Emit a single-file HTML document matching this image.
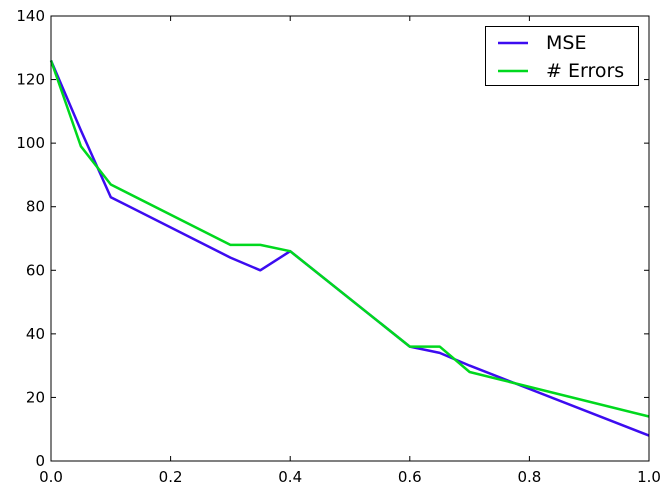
<!DOCTYPE html>
<html><head><meta charset="utf-8"><style>
body{margin:0;background:#fff;}
svg text{font-family:"DejaVu Sans","Liberation Sans",sans-serif;font-size:15px;fill:#000;}
</style></head><body>
<svg id="chart" width="671" height="493">
<rect x="0" y="0" width="671" height="493" fill="#fff"/>
<g id="marks"></g>
<g id="axes"></g>
</svg>
<script>
const xs = [0, 0.05, 0.1, 0.3, 0.35, 0.4, 0.6, 0.65, 0.7, 1.0];
const mseValues = [126, 104, 83, 64, 60, 66, 36, 34, 30, 8];
const errorValues = [126, 99, 87, 68, 68, 66, 36, 36, 28, 14];
const xTicks = [0, 0.2, 0.4, 0.6, 0.8, 1.0];
const xTickLabels = ["0.0", "0.2", "0.4", "0.6", "0.8", "1.0"];
const yTicks = [0, 20, 40, 60, 80, 100, 120, 140];
const seriesNames = ["MSE", "# Errors"];

const L=51,R=649,T=16,B=461;
const sx=v=>L+(v-0)/(1-0)*(R-L);
const sy=v=>B-(v/140)*(B-T);
const NS="http://www.w3.org/2000/svg";
const marks=document.getElementById('marks');
const axes=document.getElementById('axes');
function mk(tag,attrs,parent){const e=document.createElementNS(NS,tag);for(const k in attrs)e.setAttribute(k,attrs[k]);parent.appendChild(e);return e;}

function line(vals,color,name){
  const d=vals.map((v,i)=>(i?'L':'M')+sx(xs[i]).toFixed(1)+' '+sy(v).toFixed(1)).join(' ');
  const p=mk('path',{d:d,fill:'none',stroke:color,'stroke-width':2.5,'stroke-linejoin':'round'},marks);
  
  
}
line(mseValues,'#3c0cf0','mse-line');
line(errorValues,'#00d81e','errors-line');

const frame=mk('rect',{x:L,y:T,width:R-L,height:B-T,fill:'none',stroke:'#000','stroke-width':1},axes);



xTicks.forEach((t,i)=>{
  const x=sx(t);
  mk('line',{x1:x,x2:x,y1:B,y2:B-5,stroke:'#000'},axes);
  mk('line',{x1:x,x2:x,y1:T,y2:T+5,stroke:'#000'},axes);
  const tx=mk('text',{x:x,y:B+21,'text-anchor':'middle'},axes);
  tx.textContent=xTickLabels[i];
  
  
});
yTicks.forEach(t=>{
  const y=sy(t);
  mk('line',{x1:L,x2:L+5,y1:y,y2:y,stroke:'#000'},axes);
  mk('line',{x1:R,x2:R-5,y1:y,y2:y,stroke:'#000'},axes);
  const tx=mk('text',{x:L-6,y:y+5,'text-anchor':'end'},axes);
  tx.textContent=String(t);
  
  
});

const lg=mk('g',{},axes);


mk('rect',{x:485.5,y:26.5,width:153,height:59,fill:'#fff',stroke:'#000'},lg);
const colors=['#3c0cf0','#00d81e'];
seriesNames.forEach((n,i)=>{
  const y=43+i*28;
  mk('line',{x1:498,x2:528,y1:y,y2:y,stroke:colors[i],'stroke-width':2.5},lg);
  const tx=mk('text',{x:546,y:y+6,style:'font-size:19px'},lg);
  tx.textContent=n;
  
  
});
</script>
</body></html>
